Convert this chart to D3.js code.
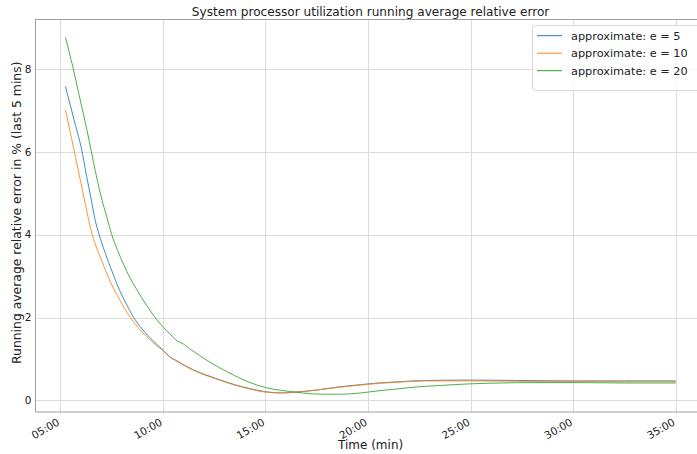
<!DOCTYPE html>
<html><head><meta charset="utf-8">
<script src="https://cdn.jsdelivr.net/npm/d3@7"></script>
<style>body{margin:0;background:#fff;} text{font-family:"DejaVu Sans",sans-serif;fill:#222;}</style>
</head><body>
<svg id="c" width="697" height="454"></svg>
<script>
const seriesNames = ["approximate: e = 5", "approximate: e = 10", "approximate: e = 20"];
const seriesColors = ["#1f77b4", "#ff7f0e", "#2ca02c"];
const xTicks = [5, 10, 15, 20, 25, 30, 35];
const xTickLabels = ["05:00", "10:00", "15:00", "20:00", "25:00", "30:00", "35:00"];
const yTicks = [0, 2, 4, 6, 8];

// time (minutes), value (%)
const e5 = [[5.26,7.57],[5.5,7.11],[5.75,6.63],[6.04,6.07],[6.3,5.38],[6.5,4.88],[6.7,4.36],[6.9,4.0],[7.2,3.55],[7.5,3.15],[7.9,2.65],[8.2,2.35],[8.58,2.0],[9.0,1.72],[9.5,1.45],[10.0,1.22],[10.33,1.06],[10.7,0.95],[11.2,0.81],[11.8,0.67],[12.3,0.58],[12.76,0.50],[13.5,0.38],[14.2,0.29],[15.0,0.21],[15.8,0.18],[16.5,0.20],[17.5,0.25],[18.5,0.32],[19.64,0.38],[20.5,0.42],[21.5,0.45],[22.8,0.48],[25,0.49],[27.5,0.48],[30,0.47],[32.5,0.47],[35,0.47]];
const e10 = [[5.26,7.01],[5.5,6.45],[5.75,5.86],[6.0,5.27],[6.2,4.80],[6.39,4.35],[6.56,4.0],[6.8,3.65],[7.0,3.40],[7.3,3.03],[7.6,2.70],[7.9,2.43],[8.2,2.17],[8.42,2.0],[8.8,1.76],[9.3,1.50],[9.7,1.32],[10.0,1.21],[10.33,1.05],[10.7,0.94],[11.2,0.80],[11.8,0.66],[12.3,0.57],[12.76,0.49],[13.5,0.37],[14.2,0.28],[15.0,0.20],[15.8,0.18],[16.5,0.20],[17.5,0.25],[18.5,0.31],[19.64,0.37],[20.5,0.41],[21.5,0.44],[22.8,0.47],[25,0.47],[27.5,0.46],[30,0.46],[32.5,0.45],[35,0.45]];
const e20 = [[5.26,8.76],[5.45,8.38],[5.63,8.02],[5.9,7.42],[6.1,6.98],[6.31,6.51],[6.52,6.0],[6.72,5.52],[6.93,5.05],[7.1,4.72],[7.3,4.38],[7.5,4.02],[7.8,3.62],[8.1,3.27],[8.4,2.96],[8.8,2.62],[9.2,2.30],[9.6,2.02],[10.0,1.78],[10.4,1.58],[10.73,1.42],[10.9,1.39],[11.3,1.25],[11.8,1.08],[12.3,0.92],[12.76,0.79],[13.5,0.60],[14.2,0.44],[15.0,0.31],[15.8,0.24],[16.49,0.20],[17.2,0.16],[17.9,0.15],[18.8,0.15],[19.64,0.18],[20.5,0.23],[21.5,0.28],[22.5,0.33],[23.5,0.36],[25,0.40],[26.5,0.42],[28,0.43],[30,0.43],[32.5,0.42],[35,0.42]];
const seriesData = [e5, e10, e20];

const svg = d3.select("#c");
const L = 35, R = 706.2, T = 19.5, B = 412;
const x = d3.scaleLinear().domain([3.773, 36.487]).range([L, R]);
const y = d3.scaleLinear().domain([-0.28, 9.19]).range([B, T]);

// grid
const g = svg.append("g");
g.selectAll(".gx").data(xTicks).join("line")
  .attr("x1", d => Math.round(x(d)) + 0.5).attr("x2", d => Math.round(x(d)) + 0.5)
  .attr("y1", T).attr("y2", B).attr("stroke", "#dcdcdc").attr("stroke-width", 1);
g.selectAll(".gy").data(yTicks).join("line")
  .attr("y1", d => Math.round(y(d)) + 0.5).attr("y2", d => Math.round(y(d)) + 0.5)
  .attr("x1", L).attr("x2", R).attr("stroke", "#dcdcdc").attr("stroke-width", 1);

// axes via d3
const xAxis = d3.axisBottom(x).tickValues(xTicks).tickFormat((d, i) => xTickLabels[i]).tickSize(0).tickPadding(0);
const xa = svg.append("g").attr("transform", `translate(0,${B})`).call(xAxis);
xa.select(".domain").remove();
xa.selectAll("text")
  .attr("font-size", 10.5).attr("text-anchor", "end").attr("fill", "#222")
  .attr("y", 0).attr("dy", 0)
  .attr("transform", "translate(-0.3,12.3) rotate(-30)");

const yAxis = d3.axisLeft(y).tickValues(yTicks).tickSize(0).tickPadding(3.5);
const ya = svg.append("g").attr("transform", `translate(${L},0)`).call(yAxis);
ya.select(".domain").remove();
ya.selectAll("text").attr("font-size", 10.5).attr("fill", "#222");

// lines
const line = d3.line().x(d => x(d[0])).y(d => y(d[1])).curve(d3.curveMonotoneX);
svg.append("g").selectAll("path").data(seriesData).join("path")
  .attr("d", line).attr("fill", "none")
  .attr("stroke", (d, i) => seriesColors[i]).attr("stroke-width", 0.85);

// spines
svg.append("rect").attr("x", L + 0.5).attr("y", T).attr("width", R - L).attr("height", B - T)
  .attr("fill", "none").attr("stroke", "#a0a0a0").attr("stroke-width", 1);

// title & labels
svg.append("text").attr("x", (L + R) / 2).attr("y", 15.5).attr("text-anchor", "middle")
  .attr("font-size", 12.1).text("System processor utilization running average relative error");
svg.append("text").attr("x", (L + R) / 2).attr("y", 448.5).attr("text-anchor", "middle")
  .attr("font-size", 12).text("Time (min)");
svg.append("text").attr("transform", `translate(21,${(T + B) / 2 - 3}) rotate(-90)`).attr("text-anchor", "middle")
  .attr("font-size", 12.4).text("Running average relative error in % (last 5 mins)");

// legend
const lg = svg.append("g");
lg.append("rect").attr("x", 532.5).attr("y", 25.5).attr("width", 170).attr("height", 65).attr("rx", 3)
  .attr("fill", "#fff").attr("fill-opacity", 0.85).attr("stroke", "#d8d8d8");
seriesNames.forEach((n, i) => {
  const yy = 35.7 + i * 17.5;
  lg.append("line").attr("x1", 537).attr("x2", 562).attr("y1", yy).attr("y2", yy)
    .attr("stroke", seriesColors[i]).attr("stroke-width", 1);
  lg.append("text").attr("x", 571).attr("y", yy).attr("dy", "0.36em").attr("font-size", 11.3).text(n);
});
</script>
</body></html>
